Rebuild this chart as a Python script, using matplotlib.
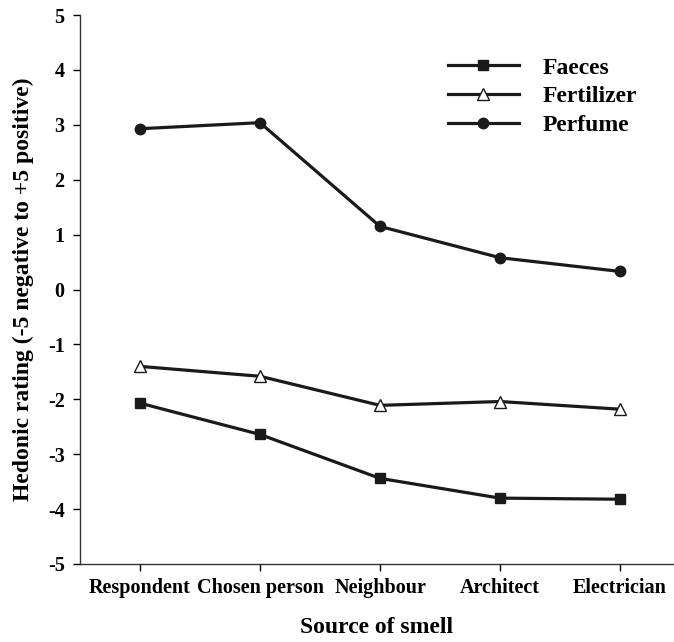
import matplotlib
matplotlib.use("Agg")
import matplotlib.pyplot as plt

sources = ["Respondent", "Chosen person", "Neighbour", "Architect", "Electrician"]
faeces = [-2.07, -2.64, -3.44, -3.80, -3.82]
fertilizer = [-1.40, -1.58, -2.11, -2.04, -2.18]
perfume = [2.93, 3.04, 1.15, 0.58, 0.33]
yticks = list(range(-5, 6))

plt.rcParams["font.family"] = "Liberation Serif"
plt.rcParams["font.weight"] = "bold"
plt.rcParams["axes.unicode_minus"] = False

fig = plt.figure(figsize=(6.74, 6.42), dpi=100)
ax = fig.add_axes([0.1187, 0.1215, 0.8813, 0.855])

x = range(len(sources))
lw = 2.3
ax.plot(x, faeces, color="#1a1a1a", lw=lw, marker="s", ms=7.5, mfc="#1a1a1a", label="Faeces")
ax.plot(x, fertilizer, color="#1a1a1a", lw=lw, marker="^", ms=9, mfc="white", mew=1.0, label="Fertilizer")
ax.plot(x, perfume, color="#1a1a1a", lw=lw, marker="o", ms=7.5, mfc="#1a1a1a", label="Perfume")

ax.set_xlim(-0.5, 4.45)
ax.set_ylim(-5, 5)
ax.set_yticks(yticks)
ax.set_xticks(list(x))
ax.set_xticklabels(sources)
ax.tick_params(labelsize=14.5, length=5, width=1, direction="out", pad=6)
ax.tick_params(axis="x", pad=5)
for s in ["top", "right"]:
    ax.spines[s].set_visible(False)
for s in ["left", "bottom"]:
    ax.spines[s].set_linewidth(1)
    ax.spines[s].set_color("#333333")

ax.set_xlabel("Source of smell", fontsize=17, fontweight="bold", labelpad=14)
ax.set_ylabel("Hedonic rating (-5 negative to +5 positive)", fontsize=17, fontweight="bold", labelpad=10)

ax.legend(loc="upper right", bbox_to_anchor=(0.973, 0.962), frameon=False, fontsize=17,
          handlelength=3.0, handletextpad=1.0, labelspacing=0.3)

fig.savefig("out.png", dpi=100)
